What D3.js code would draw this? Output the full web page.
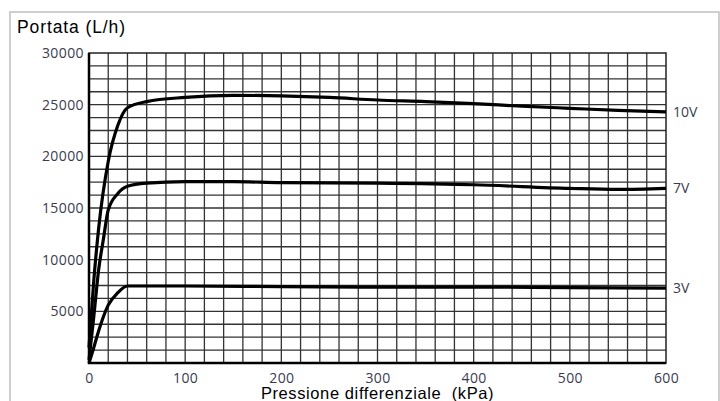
<!DOCTYPE html>
<html>
<head>
<meta charset="utf-8">
<script src="https://cdn.jsdelivr.net/npm/d3@7"></script>
<style>
    body { margin: 0; background: #fff; }
    svg { display: block; }
</style>
</head>
<body>
<div id="chart"></div>
<script>
(function (d3) {
    'use strict';

    // pressure (kPa) / flow (L/h)
    var pressure10 = [0, 5, 10, 20, 30, 40, 60, 100, 150, 200, 250, 300, 350, 400, 450, 500, 550, 600],
        flow10     = [1500, 8000, 13000, 19500, 23000, 24700, 25300, 25700, 25900, 25850, 25700, 25450, 25300, 25100, 24850, 24650, 24450, 24300];

    var pressure7 = [0, 5, 10, 15, 20, 30, 40, 60, 100, 150, 200, 300, 400, 500, 550, 600],
        flow7     = [300, 4500, 9000, 12000, 14800, 16400, 17100, 17400, 17550, 17550, 17450, 17400, 17250, 16900, 16800, 16900];

    var pressure3 = [0, 5, 10, 20, 30, 40, 100, 200, 300, 400, 500, 600],
        flow3     = [0, 1500, 3100, 5600, 6800, 7450, 7450, 7400, 7350, 7350, 7300, 7250];

    var seriesLabels = ['10V', '7V', '3V'];
    var xTicks = [0, 100, 200, 300, 400, 500, 600],
        yTicks = [5000, 10000, 15000, 20000, 25000, 30000];

    var width  = 720,
        height = 401,
        left   = 89,
        right  = 666,
        top    = 53,
        bottom = 363;

    var labelFont  = '"Open Sans", sans-serif',
        labelColor = '#3b3b4f',
        titleFont  = '"Liberation Sans", Arial, sans-serif';

    var series = [
        { name: seriesLabels[0], x: pressure10, y: flow10 },
        { name: seriesLabels[1], x: pressure7,  y: flow7 },
        { name: seriesLabels[2], x: pressure3,  y: flow3 }
    ];

    var x = d3.scaleLinear().domain([0, 600]).range([left, right]),
        y = d3.scaleLinear().domain([0, 30000]).range([bottom, top]);

    var svg = d3.select('#chart').append('svg')
        .attr('width', width)
        .attr('height', height);

    // outer frame
    svg.append('rect')
        .attr('x', 10).attr('y', 12)
        .attr('width', 709).attr('height', 420)
        .attr('fill', 'none')
        .attr('stroke', '#cfcfcf')
        .attr('stroke-width', 2);

    // grid: every 20 kPa, every 1250 L/h
    svg.append('g')
        .selectAll('line')
        .data(d3.range(20, 600, 20))
        .enter().append('line')
            .attr('x1', function (d) { return x(d); })
            .attr('x2', function (d) { return x(d); })
            .attr('y1', top).attr('y2', bottom)
            .attr('stroke', '#333')
            .attr('stroke-width', 1.3);

    svg.append('g')
        .selectAll('line')
        .data(d3.range(1250, 30000, 1250))
        .enter().append('line')
            .attr('x1', left).attr('x2', right)
            .attr('y1', function (d) { return y(d); })
            .attr('y2', function (d) { return y(d); })
            .attr('stroke', '#333')
            .attr('stroke-width', 1.3);

    // plot border
    svg.append('rect')
        .attr('x', left).attr('y', top)
        .attr('width', right - left).attr('height', bottom - top)
        .attr('fill', 'none')
        .attr('stroke', '#222')
        .attr('stroke-width', 1.5);
    svg.append('path')
        .attr('d', 'M' + left + ',' + top + 'V' + bottom + 'H' + right)
        .attr('fill', 'none')
        .attr('stroke', '#000')
        .attr('stroke-width', 2.5);

    // axes (labels only)
    var xAxis = svg.append('g')
        .attr('transform', 'translate(0,' + bottom + ')')
        .call(d3.axisBottom(x).tickValues(xTicks).tickSize(0).tickPadding(10).tickFormat(d3.format('d')));
    var yAxis = svg.append('g')
        .attr('transform', 'translate(' + (left - 1) + ',0)')
        .call(d3.axisLeft(y).tickValues(yTicks).tickSize(0).tickPadding(4).tickFormat(d3.format('d')));

    [xAxis, yAxis].forEach(function (axis) {
        axis.select('.domain').remove();
        axis.selectAll('text')
            .attr('fill', labelColor)
            .style('font-family', labelFont)
            .style('font-size', '14px')
            .style('letter-spacing', '0.4px');
    });

    // curves
    var line = d3.line()
        .x(function (d) { return x(d[0]); })
        .y(function (d) { return y(d[1]); })
        .curve(d3.curveMonotoneX);

    svg.append('g')
        .selectAll('path')
        .data(series)
        .enter().append('path')
            .attr('d', function (s) { return line(d3.zip(s.x, s.y)); })
            .attr('fill', 'none')
            .attr('stroke', '#000')
            .attr('stroke-width', 3.2)
            .attr('stroke-linejoin', 'round');

    svg.append('g')
        .selectAll('text')
        .data(series)
        .enter().append('text')
            .attr('x', right + 7)
            .attr('y', function (s) { return y(s.y[s.y.length - 1]); })
            .attr('dy', '0.35em')
            .attr('fill', labelColor)
            .style('font-family', labelFont)
            .style('font-size', '14px')
            .text(function (s) { return s.name; });

    // titles
    svg.append('text')
        .attr('x', 17).attr('y', 33)
        .style('font-family', titleFont)
        .style('font-size', '17.5px')
        .style('letter-spacing', '0.9px')
        .attr('fill', '#000')
        .text('Portata (L/h)');

    svg.append('text')
        .attr('x', (left + right) / 2).attr('y', 399)
        .attr('text-anchor', 'middle')
        .style('font-family', titleFont)
        .style('font-size', '16.5px')
        .style('letter-spacing', '0.6px')
        .style('white-space', 'pre')
        .attr('fill', '#000')
        .text('Pressione differenziale  (kPa)');
}(window.d3));
</script>
</body>
</html>
